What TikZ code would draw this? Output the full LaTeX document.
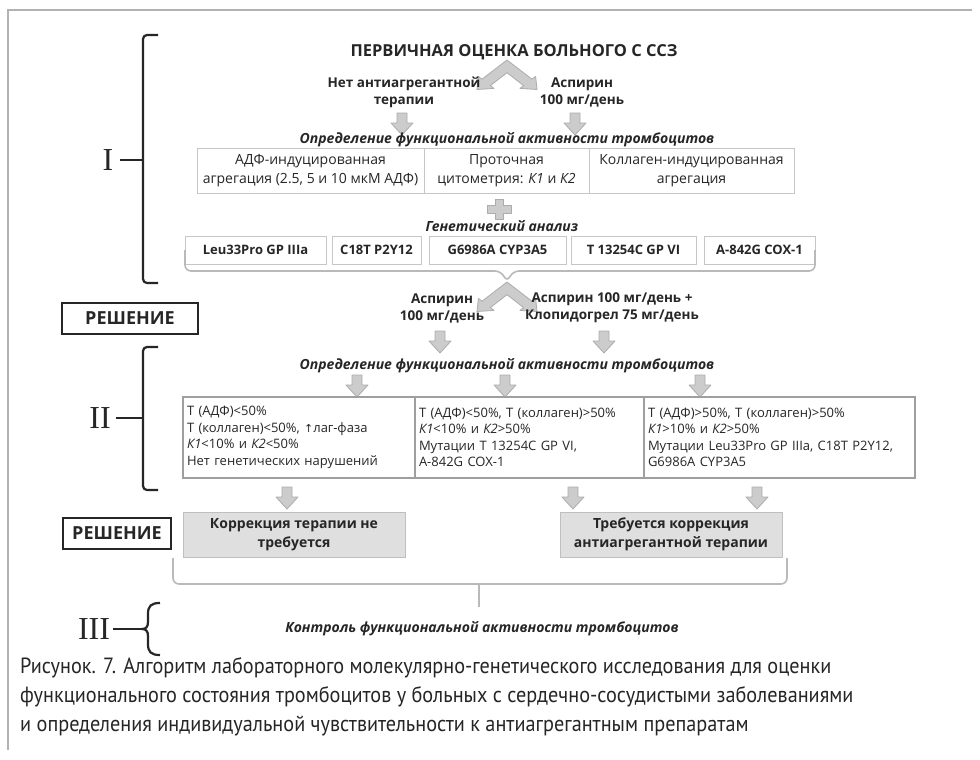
\documentclass[tikz,border=0pt]{standalone}
\usepackage{fontspec}
\setmainfont{Open Sans}
\newfontfamily\capfont[FakeStretch=0.92]{PT Sans}
\newfontfamily\romf{Liberation Serif}
\newfontfamily\symf{DejaVu Sans}
\begin{document}
\begin{tikzpicture}[x=1pt,y=-1pt,
  every node/.style={inner sep=0pt, text=black!85},
  lbl/.style={font=\fontsize{13.5}{17}\selectfont\bfseries, align=center},
  hdr/.style={font=\fontsize{14}{17}\selectfont\bfseries\itshape},
  wbox/.style={draw=gray!45, line width=0.9pt, minimum height=45pt, align=center, font=\fontsize{14}{19}\selectfont},
  gbox/.style={draw=gray!45, line width=0.9pt, minimum height=28pt, font=\fontsize{13}{16}\selectfont\bfseries},
  cbox/.style={draw=gray!75, line width=1.2pt, minimum height=81pt, align=left, inner xsep=4pt, font=\fontsize{13}{16.5}\selectfont},
  dbox/.style={draw=gray!50, fill=gray!25, line width=1pt, minimum height=45pt, align=center, font=\fontsize{14}{19}\selectfont\bfseries},
  rbox/.style={draw=black!85, line width=2.6pt, minimum height=31pt, font=\fontsize{18}{20}\selectfont\bfseries},
  blk/.style={fill=gray!40, draw=gray!65, line width=0.8pt, line join=round},
  lbrace/.style={draw=black!85, line width=2.2pt, rounded corners=4pt},
  ubrace/.style={draw=gray!55, line width=1.6pt, rounded corners=6pt},
  roman/.style={font=\romf\fontsize{32}{32}\selectfont},
  frame/.style={draw=gray!60, line width=1.2pt},
  chev/.pic={\draw[blk] (0,0) -- (19.2,19.2) -- (22,16.4) -- (23.1,29.5) -- (10,28.4) -- (12.8,25.6) -- (0,12.7) -- (-12.8,25.6) -- (-10,28.4) -- (-23.1,29.5) -- (-22,16.4) -- (-19.2,19.2) -- cycle;},
  darr/.pic={\draw[blk] (-5,0) -- (5,0) -- (5,10) -- (11,10) -- (0,22) -- (-11,10) -- (-5,10) -- cycle;},
  plusp/.pic={\draw[blk] (-4,-10) -- (4,-10) -- (4,-4) -- (12,-4) -- (12,4) -- (4,4) -- (4,10) -- (-4,10) -- (-4,4) -- (-12,4) -- (-12,-4) -- (-4,-4) -- cycle;}
]
\useasboundingbox (0,0) rectangle (980,760);
\fill[white] (0,0) rectangle (980,760);
% frame
\draw[frame] (8,750) -- (8,10) -- (972,10);

% ---------- section I ----------
\node[roman] (nI) at (108,160) {I};
\draw[lbrace] (158,35) -- (143,35) -- (143,283) -- (158,283);
\draw[lbrace, rounded corners=0pt] (nI.east) ++(6,0) -- (143,160);

\node[font=\fontsize{16.5}{18}\selectfont\bfseries] (title) at (514,52) {ПЕРВИЧНАЯ ОЦЕНКА БОЛЬНОГО С ССЗ};
\pic[xscale=1.3] at (507,60) {chev};
\node[lbl] (l1a) at (404,92) {Нет антиагрегантной\\терапии};
\node[lbl] (l1b) at (582,92) {Аспирин\\100 мг/день};
\pic at (402,113) {darr};
\pic at (575,113) {darr};
\node[hdr] (opr1) at (507,140) {Определение функциональной активности тромбоцитов};

\node[wbox, minimum width=227pt] (b1a) at (310.5,170.5) {АДФ-индуцированная\\агрегация (2.5, 5 и 10 мкМ АДФ)};
\node[wbox, minimum width=165pt] (b1b) at (506.5,170.5) {Проточная\\цитометрия: \textit{К1} и \textit{К2}};
\node[wbox, minimum width=205pt] (b1c) at (691.5,170.5) {Коллаген-индуцированная\\агрегация};

\pic at (499,209) {plusp};
\node[hdr] (gen) at (502,226) {Генетический анализ};

\node[gbox, minimum width=141pt] (g1) at (255.5,250) {Leu33Pro GP IIIa};
\node[gbox, minimum width=89pt] (g2) at (376.5,250) {C18T P2Y12};
\node[gbox, minimum width=137pt] (g3) at (497.5,250) {G6986A CYP3A5};
\node[gbox, minimum width=125pt] (g4) at (633.5,250) {T 13254C GP VI};
\node[gbox, minimum width=111pt] (g5) at (759.5,250) {A-842G COX-1};

\coordinate (ub1) at (507,282);
\draw[ubrace] (185,250) -- (185,271) -- (501,271) -- (ub1) -- (513,271) -- (815,271) -- (815,250);

% ---------- decision 1 ----------
\pic[xscale=1.3] at (507,282) {chev};
\node[lbl] (l2a) at (442,308) {Аспирин\\100 мг/день};
\node[lbl] (l2b) at (612,308) {Аспирин 100 мг/день +\\Клопидогрел 75 мг/день};
\node[rbox, minimum width=136pt] (r1) at (130,318.5) {РЕШЕНИЕ};
\pic at (440,331) {darr};
\pic at (604,331) {darr};
\node[hdr] (opr2) at (507,366) {Определение функциональной активности тромбоцитов};
\pic at (357,375) {darr};
\pic at (505,375) {darr};
\pic at (700,375) {darr};

% ---------- section II ----------
\node[roman] (nII) at (100,418) {II};
\draw[lbrace] (158,347) -- (143,347) -- (143,490) -- (158,490);
\draw[lbrace, rounded corners=0pt] (nII.east) ++(5,0) -- (143,418);

\node[cbox, text width=224pt] (c1) at (299,437.5) {Т (АДФ)<50\%\\Т (коллаген)<50\%, {\symf\fontsize{11}{16}\selectfont ↑}лаг-фаза\\\textit{К1}<10\% и \textit{К2}<50\%\\Нет генетических нарушений};
\node[cbox, text width=221pt] (c2) at (529.5,437.5) {Т (АДФ)<50\%, Т (коллаген)>50\%\\\textit{К1}<10\% и \textit{К2}>50\%\\Мутации Т 13254C GP VI,\\A-842G COX-1};
\node[cbox, text width=263pt] (c3) at (779.5,437.5) {Т (АДФ)>50\%, Т (коллаген)>50\%\\\textit{К1}>10\% и \textit{К2}>50\%\\Мутации Leu33Pro GP IIIa, C18T P2Y12,\\G6986A CYP3A5};

\pic at (287,487) {darr};
\pic at (573,487) {darr};
\pic at (757,487) {darr};

% ---------- decision 2 ----------
\node[rbox, minimum width=108pt] (r2) at (117,533.5) {РЕШЕНИЕ};
\node[dbox, minimum width=222pt] (d1) at (294,534.5) {Коррекция терапии не\\требуется};
\node[dbox, minimum width=222pt] (d2) at (671,534.5) {Требуется коррекция\\антиагрегантной терапии};

\coordinate (ub2) at (479,607);
\draw[ubrace] (173,558) -- (173,584) -- (787,584) -- (787,558);
\draw[ubrace] (479,584) -- (ub2);

% ---------- section III ----------
\node[roman] (nIII) at (94,629) {III};
\draw[lbrace, rounded corners=0pt] (160,603) .. controls (151,603) and (148,606) .. (148,614) -- (148,622) .. controls (148,627) and (146,629) .. (142,629) .. controls (146,629) and (148,631) .. (148,636) -- (148,644) .. controls (148,652) and (151,655) .. (160,655);
\draw[lbrace, rounded corners=0pt] (nIII.east) ++(3,0) -- (142,629);
\node[hdr] (ktrl) at (482,629) {Контроль функциональной активности тромбоцитов};

% ---------- caption ----------
\node[anchor=west, align=left, font=\capfont\fontsize{22}{29}\selectfont, text=black!85] (cap) at (20,697) {Рисунок. 7. Алгоритм лабораторного молекулярно-генетического исследования для оценки\\функционального состояния тромбоцитов у больных с сердечно-сосудистыми заболеваниями\\и определения индивидуальной чувствительности к антиагрегантным препаратам};
\end{tikzpicture}
\end{document}
